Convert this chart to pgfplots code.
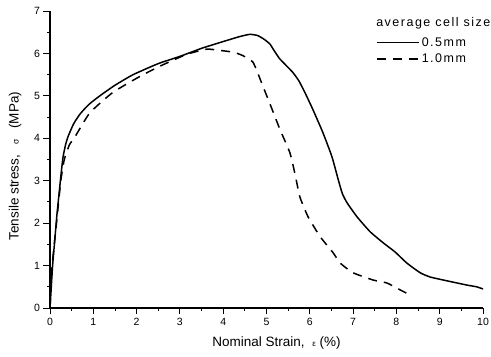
\documentclass[border=0pt]{standalone}
\usepackage{pgfplots}
\pgfplotsset{compat=1.18}
\usepackage{fontspec}
\setmainfont{Liberation Sans}
\begin{document}
\begin{tikzpicture}
\begin{axis}[
  width=433pt, height=297pt, scale only axis,
  xmin=0, xmax=10, ymin=0, ymax=7,
  axis lines=left, axis line style={-, line width=1.1pt},
  xtick={0,1,...,10}, ytick={0,1,...,7},
  minor x tick num=1, minor y tick num=1,
  tick align=outside, major tick length=6.5pt, minor tick length=3pt,
  tick style={line width=0.9pt, black},
  /pgf/number format/assume math mode=true,
  tick label style={font=\fontsize{10.5}{12}\selectfont},
  xlabel={Nominal Strain,\hspace{0.3em} {\fontsize{8}{8}\selectfont ε} (\%)},
  ylabel={Tensile stress,\hspace{0.5em} {\fontsize{8.5}{8}\selectfont σ}\hspace{0.5em} (MPa)},
  label style={font=\fontsize{13.5}{15}\selectfont},
  xlabel style={at={(axis description cs:0.523,-0.118)}, anchor=center},
  ylabel style={at={(axis description cs:-0.0808,0.478)}, anchor=center},
  clip=false,
  legend cell align=left,
  legend style={at={(rel axis cs:0.753,0.912)}, anchor=north west, draw=none, fill=none,
    font=\fontsize{12.5}{14}\selectfont\addfontfeature{LetterSpace=12}, inner sep=0pt,
    nodes={inner sep=0pt}, row sep=6.5pt, column sep=2pt},
  legend image code/.code={\draw[#1] (0pt,0pt) -- (42pt,0pt);},
]
\addplot[black, line width=1.5pt, smooth, tension=0.3] coordinates {
(0,0) (0.03,0.5) (0.06,1.0) (0.11,1.6) (0.16,2.2) (0.21,2.7) (0.25,3.1)
(0.3,3.55) (0.36,3.85) (0.42,4.05) (0.55,4.35) (0.7,4.58) (0.9,4.8)
(1.15,5.0) (1.5,5.25) (1.92,5.5) (2.5,5.76) (3.0,5.93) (3.5,6.12)
(4.0,6.28) (4.39,6.40) (4.62,6.45) (4.8,6.42) (4.95,6.33) (5.08,6.22)
(5.18,6.06) (5.3,5.88) (5.45,5.72) (5.61,5.55) (5.75,5.35) (5.9,5.05)
(6.07,4.68) (6.3,4.14) (6.51,3.57) (6.65,3.05) (6.75,2.7) (6.86,2.48)
(7.09,2.15) (7.39,1.80) (7.69,1.54) (7.97,1.32) (8.24,1.06) (8.55,0.83)
(8.78,0.73) (9.17,0.64) (9.63,0.54) (9.85,0.50) (10.0,0.45)
};
\addlegendentry{0.5mm}
\addplot[black, line width=1.5pt, dash pattern=on 9pt off 7pt, smooth, tension=0.3] coordinates {
(0,0) (0.05,1.0) (0.15,2.0) (0.25,3.0) (0.33,3.5) (0.45,3.85) (0.58,4.04)
(0.92,4.6) (1.45,5.08) (2.08,5.46) (2.54,5.70) (3.16,5.98) (3.62,6.10)
(3.85,6.08) (4.23,6.03) (4.45,5.95) (4.69,5.79) (4.92,5.22) (5.13,4.68)
(5.31,4.21) (5.54,3.66) (5.66,3.15) (5.77,2.62) (5.96,2.15) (6.24,1.68)
(6.54,1.30) (6.70,1.06) (7.0,0.83) (7.46,0.66) (7.78,0.59) (8.08,0.43)
(8.27,0.33)
};
\addlegendentry{1.0mm}
\node[anchor=base west, font=\fontsize{12.5}{14}\selectfont\addfontfeature{LetterSpace=12}, inner sep=0pt] at (rel axis cs:0.753,0.9495) {average cell size};
\end{axis}
\pgfresetboundingbox
\useasboundingbox ([xshift=-50pt,yshift=-49pt]current axis.south west) rectangle ([xshift=8pt,yshift=11pt]current axis.north east);
\end{tikzpicture}
\end{document}
